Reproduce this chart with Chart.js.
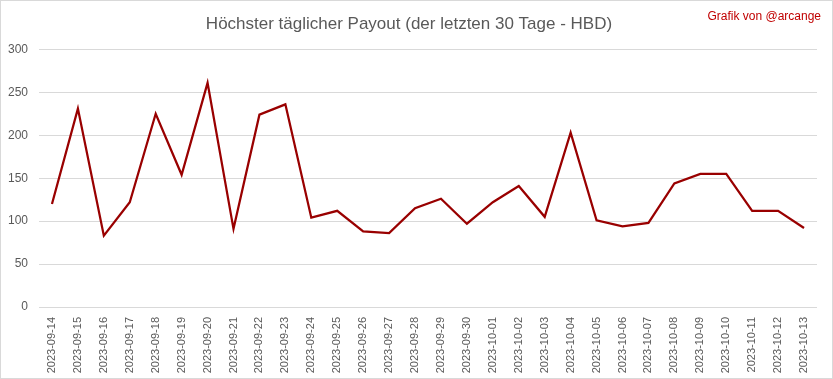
<!DOCTYPE html>
<html>
<head>
<meta charset="utf-8">
<script src="https://cdn.jsdelivr.net/npm/chart.js@4/dist/chart.umd.min.js"></script>
<style>
  html, body { margin: 0; padding: 0; background: #fff; }
  #wrap { width: 833px; height: 379px; box-sizing: border-box; border: 1px solid #d9d9d9; }
</style>
</head>
<body>
<div id="wrap"><canvas id="payoutChart" width="831" height="377"></canvas></div>
<script>
const days = [
  '2023-09-14', '2023-09-15', '2023-09-16', '2023-09-17', '2023-09-18',
  '2023-09-19', '2023-09-20', '2023-09-21', '2023-09-22', '2023-09-23',
  '2023-09-24', '2023-09-25', '2023-09-26', '2023-09-27', '2023-09-28',
  '2023-09-29', '2023-09-30', '2023-10-01', '2023-10-02', '2023-10-03',
  '2023-10-04', '2023-10-05', '2023-10-06', '2023-10-07', '2023-10-08',
  '2023-10-09', '2023-10-10', '2023-10-11', '2023-10-12', '2023-10-13',
];

// höchster Payout pro Tag (HBD)
const maxPayout = [
  120, 231, 83, 122, 225, 154, 261, 91, 224, 236,
  104, 112, 88, 86, 115, 126, 97, 122, 141, 105,
  203, 101, 94, 98, 144, 155, 155, 112, 112, 92,
];

const yTicks = [0, 50, 100, 150, 200, 250, 300];

const textGrey = '#595959';
const font = "'Liberation Sans', Arial, sans-serif";

// Signatur oben rechts
const creditPlugin = {
  id: 'credit',
  afterDraw(chart) {
    const c = chart.ctx;
    c.save();
    c.font = '12px ' + font;
    c.fillStyle = '#c00000';
    c.textAlign = 'right';
    c.textBaseline = 'middle';
    c.fillText('Grafik von @arcange', 820, 16);
    c.restore();
  },
};

const ctx = document.getElementById('payoutChart').getContext('2d');

new Chart(ctx, {
  type: 'line',
  data: {
    labels: days,
    datasets: [
      {
        label: 'Payout',
        data: maxPayout,
        borderColor: '#990000',
        borderWidth: 2.25,
        pointRadius: 0,
        tension: 0,
        fill: false,
      },
    ],
  },
  options: {
    responsive: false,
    animation: false,
    layout: {
      padding: { left: 0, right: 15, top: 0, bottom: 3 },
    },
    plugins: {
      legend: { display: false },
      tooltip: { enabled: false },
      title: {
        display: true,
        text: 'Höchster täglicher Payout (der letzten 30 Tage - HBD)',
        color: textGrey,
        font: { family: font, size: 17, weight: 'normal' },
        padding: { top: 13, bottom: 15 },
      },
    },
    scales: {
      x: {
        offset: true,
        grid: { display: false },
        border: { display: false },
        ticks: {
          color: textGrey,
          font: { family: font, size: 11 },
          minRotation: 90,
          maxRotation: 90,
          autoSkip: false,
          padding: 2,
        },
        afterFit(scale) { scale.height = 68; },
      },
      y: {
        min: 0,
        max: 300,
        afterBuildTicks(scale) { scale.ticks = yTicks.map(v => ({ value: v })); },
        grid: { color: '#d9d9d9', drawTicks: false },
        border: { display: false },
        ticks: {
          color: textGrey,
          font: { family: font, size: 12 },
          padding: 11,
        },
        afterFit(scale) { scale.width = 38; },
      },
    },
  },
  plugins: [creditPlugin],
});
</script>
</body>
</html>
